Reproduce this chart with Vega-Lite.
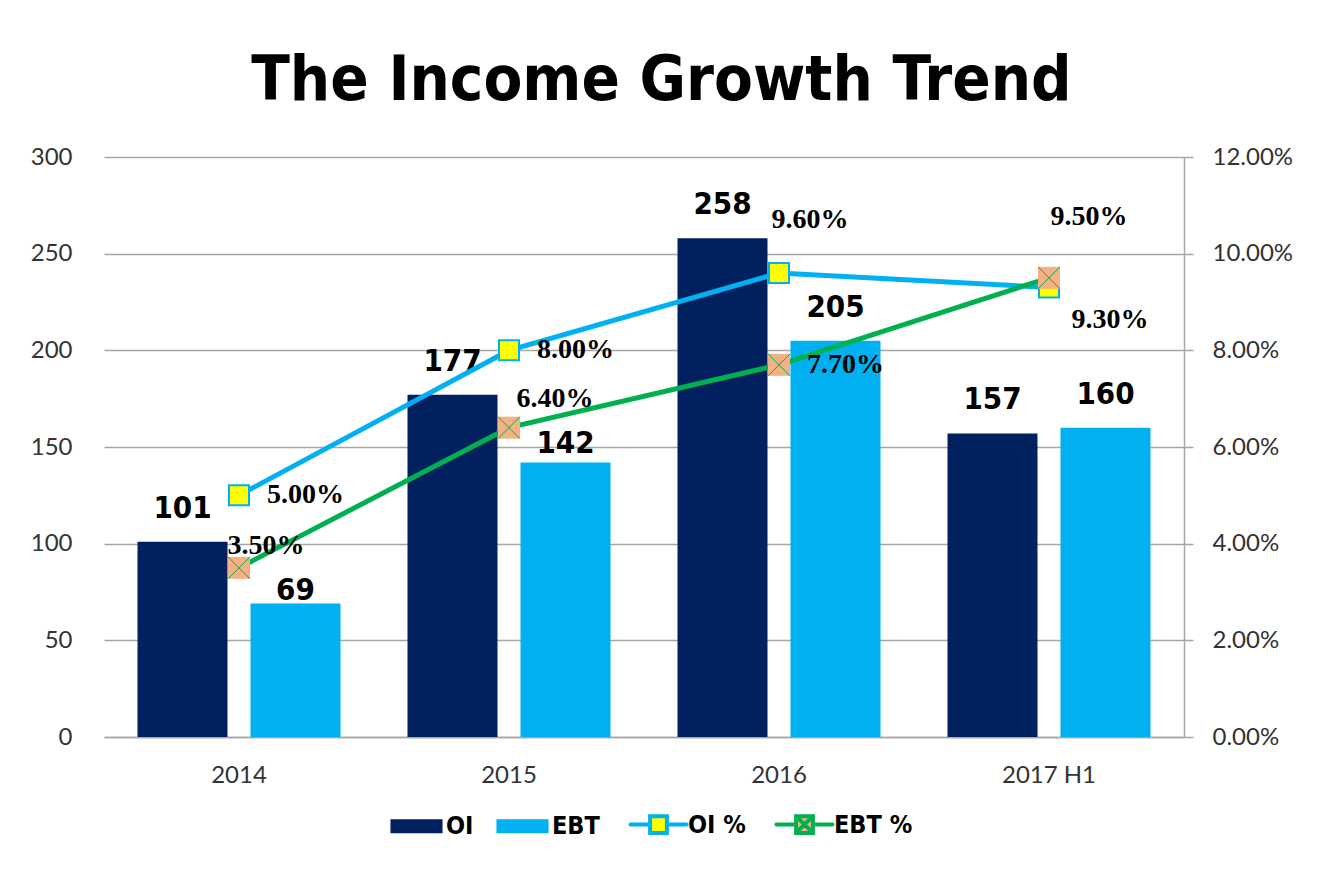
{
  "$schema": "https://vega.github.io/schema/vega-lite/v6.json",
  "width": 1080,
  "height": 580,
  "autosize": {"type": "none"},
  "padding": {"left": 104, "top": 157, "right": 143, "bottom": 149},
  "background": "white",
  "title": {
    "text": "The Income Growth Trend",
    "font": "DejaVu Sans Condensed, DejaVu Sans, sans-serif",
    "fontSize": 63,
    "fontWeight": "bold",
    "color": "black",
    "anchor": "middle",
    "frame": "bounds",
    "offset": 32
  },
  "data": {
    "values": [
      {"year": "2014", "series": "OI", "amount": 101},
      {"year": "2014", "series": "EBT", "amount": 69},
      {"year": "2015", "series": "OI", "amount": 177},
      {"year": "2015", "series": "EBT", "amount": 142},
      {"year": "2016", "series": "OI", "amount": 258},
      {"year": "2016", "series": "EBT", "amount": 205},
      {"year": "2017 H1", "series": "OI", "amount": 157},
      {"year": "2017 H1", "series": "EBT", "amount": 160},
      {"year": "2014", "series": "OI %", "pct": 0.05},
      {"year": "2015", "series": "OI %", "pct": 0.08},
      {"year": "2016", "series": "OI %", "pct": 0.096},
      {"year": "2017 H1", "series": "OI %", "pct": 0.093},
      {"year": "2014", "series": "EBT %", "pct": 0.035},
      {"year": "2015", "series": "EBT %", "pct": 0.064},
      {"year": "2016", "series": "EBT %", "pct": 0.077},
      {"year": "2017 H1", "series": "EBT %", "pct": 0.095}
    ]
  },
  "encoding": {
    "x": {
      "field": "year",
      "type": "nominal",
      "sort": ["2014", "2015", "2016", "2017 H1"],
      "scale": {"paddingInner": 0, "paddingOuter": 0},
      "axis": {
        "title": null,
        "labelAngle": 0,
        "ticks": false,
        "domain": true,
        "grid": false,
        "labelPadding": 26
      }
    }
  },
  "layer": [
    {
      "transform": [{"filter": "datum.series === 'OI' || datum.series === 'EBT'"}],
      "encoding": {
        "y": {
          "field": "amount",
          "type": "quantitative",
          "scale": {"domain": [0, 300], "nice": false},
          "axis": {
            "orient": "left",
            "title": null,
            "values": [0, 50, 100, 150, 200, 250, 300],
            "grid": true,
            "domain": false,
            "ticks": false,
            "tickSize": 0,
            "labelPadding": 32
          }
        },
        "xOffset": {
          "field": "series",
          "type": "nominal",
          "sort": ["OI", "EBT"],
          "scale": {"paddingInner": 0.2035, "paddingOuter": 0.2965}
        }
      },
      "layer": [
        {
          "mark": {"type": "bar"},
          "encoding": {
            "color": {
              "field": "series",
              "type": "nominal",
              "scale": {
                "domain": ["OI", "EBT", "OI %", "EBT %"],
                "range": ["#002060", "#00B0F0", "#FFFF00", "#F4B183"]
              },
              "legend": {
                "orient": "none",
                "legendX": 300,
                "legendY": 655,
                "direction": "horizontal",
                "title": null,
                "padding": 0,
                "labelFont": "DejaVu Sans Condensed, DejaVu Sans, sans-serif",
                "labelFontSize": 25,
                "labelFontWeight": "bold",
                "labelColor": "black",
                "symbolSize": 3136,
                "labelOffset": 17,
                "columnPadding": 22,
                "encode": {
                  "symbols": {
                    "update": {
                      "shape": {"signal": "datum.value === 'OI' || datum.value === 'EBT' ? 'M-0.93,-0.25H0.93V0.25H-0.93Z' : datum.value === 'OI %' ? 'M-1,0H-0.3M0.3,0H1M-0.3,-0.3H0.3V0.3H-0.3Z' : 'M-1,0H-0.3M0.3,0H1M-0.3,-0.3H0.3V0.3H-0.3ZM-0.3,-0.3L0.3,0.3M0.3,-0.3L-0.3,0.3'"},
                      "fill": {"signal": "datum.value === 'OI' ? '#002060' : datum.value === 'EBT' ? '#00B0F0' : datum.value === 'OI %' ? '#FFFF00' : '#F4B183'"},
                      "stroke": {"signal": "datum.value === 'OI' ? '#002060' : datum.value === 'EBT' ? '#00B0F0' : datum.value === 'OI %' ? '#00B0F0' : '#00B050'"},
                      "strokeWidth": {"signal": "datum.value === 'OI' || datum.value === 'EBT' ? 0 : 4"},
                      "strokeCap": {"value": "round"},
                      "fillOpacity": {"value": 1},
                      "strokeOpacity": {"value": 1},
                      "opacity": {"value": 1},
                      "size": {"value": 3136}
                    }
                  }
                }
              }
            }
          }
        },
        {
          "transform": [{"filter": "!(datum.year === '2014' && datum.series === 'EBT') && !(datum.year === '2015' && datum.series === 'EBT')"}],
          "mark": {"type": "text", "baseline": "alphabetic", "dy": -24, "font": "DejaVu Sans Condensed, DejaVu Sans, sans-serif", "fontSize": 31, "fontWeight": "bold", "color": "black"},
          "encoding": {"text": {"field": "amount", "type": "quantitative"}}
        },
        {
          "transform": [{"filter": "datum.year === '2014' && datum.series === 'EBT'"}],
          "mark": {"type": "text", "baseline": "alphabetic", "dy": -4, "font": "DejaVu Sans Condensed, DejaVu Sans, sans-serif", "fontSize": 31, "fontWeight": "bold", "color": "black"},
          "encoding": {"text": {"field": "amount", "type": "quantitative"}}
        },
        {
          "transform": [{"filter": "datum.year === '2015' && datum.series === 'EBT'"}],
          "mark": {"type": "text", "baseline": "alphabetic", "dy": -9, "font": "DejaVu Sans Condensed, DejaVu Sans, sans-serif", "fontSize": 31, "fontWeight": "bold", "color": "black"},
          "encoding": {"text": {"field": "amount", "type": "quantitative"}}
        }
      ]
    },
    {
      "transform": [{"filter": "datum.series === 'OI %' || datum.series === 'EBT %'"}],
      "encoding": {
        "y": {
          "field": "pct",
          "type": "quantitative",
          "scale": {"domain": [0, 0.12], "nice": false},
          "axis": {
            "orient": "right",
            "title": null,
            "format": ".2%",
            "values": [0, 0.02, 0.04, 0.06, 0.08, 0.1, 0.12],
            "grid": false,
            "domain": true,
            "ticks": true,
            "tickSize": 9,
            "labelPadding": 19
          }
        }
      },
      "layer": [
        {
          "transform": [{"filter": "datum.series === 'OI %'"}],
          "mark": {"type": "line", "strokeWidth": 5, "color": "#00B0F0"}
        },
        {
          "transform": [{"filter": "datum.series === 'OI %'"}],
          "mark": {"type": "point", "shape": "square", "filled": true, "fill": "#FFFF00", "stroke": "#00B0F0", "strokeWidth": 2, "size": 400, "opacity": 1}
        },
        {
          "transform": [{"filter": "datum.series === 'EBT %'"}],
          "mark": {"type": "line", "strokeWidth": 5, "color": "#00B050"}
        },
        {
          "transform": [{"filter": "datum.series === 'EBT %'"}],
          "mark": {"type": "point", "shape": "square", "filled": true, "fill": "#F4B183", "size": 484, "opacity": 1}
        },
        {
          "transform": [{"filter": "datum.series === 'EBT %'"}],
          "mark": {"type": "point", "shape": "M-1,-1L1,1M1,-1L-1,1", "filled": false, "stroke": "#00B050", "strokeWidth": 1, "size": 484, "opacity": 1}
        },
        {
          "transform": [{"filter": "(datum.series === 'OI %' && (datum.year === '2014' || datum.year === '2015')) || (datum.series === 'EBT %' && datum.year === '2016')"}],
          "mark": {"type": "text", "align": "left", "baseline": "middle", "dx": 28, "font": "Liberation Serif, DejaVu Serif, serif", "fontSize": 28, "fontWeight": "bold", "color": "black"},
          "encoding": {"text": {"field": "pct", "type": "quantitative", "format": ".2%"}}
        },
        {
          "transform": [{"filter": "datum.series === 'OI %' && datum.year === '2016'"}],
          "mark": {"type": "text", "align": "center", "baseline": "middle", "dx": 31, "dy": -53, "font": "Liberation Serif, DejaVu Serif, serif", "fontSize": 28, "fontWeight": "bold", "color": "black"},
          "encoding": {"text": {"field": "pct", "type": "quantitative", "format": ".2%"}}
        },
        {
          "transform": [{"filter": "datum.series === 'OI %' && datum.year === '2017 H1'"}],
          "mark": {"type": "text", "align": "center", "baseline": "middle", "dx": 61, "dy": 32, "font": "Liberation Serif, DejaVu Serif, serif", "fontSize": 28, "fontWeight": "bold", "color": "black"},
          "encoding": {"text": {"field": "pct", "type": "quantitative", "format": ".2%"}}
        },
        {
          "transform": [{"filter": "datum.series === 'EBT %' && datum.year === '2014'"}],
          "mark": {"type": "text", "align": "center", "baseline": "middle", "dx": 27, "dy": -22, "font": "Liberation Serif, DejaVu Serif, serif", "fontSize": 28, "fontWeight": "bold", "color": "black"},
          "encoding": {"text": {"field": "pct", "type": "quantitative", "format": ".2%"}}
        },
        {
          "transform": [{"filter": "datum.series === 'EBT %' && datum.year === '2015'"}],
          "mark": {"type": "text", "align": "center", "baseline": "middle", "dx": 46, "dy": -29, "font": "Liberation Serif, DejaVu Serif, serif", "fontSize": 28, "fontWeight": "bold", "color": "black"},
          "encoding": {"text": {"field": "pct", "type": "quantitative", "format": ".2%"}}
        },
        {
          "transform": [{"filter": "datum.series === 'EBT %' && datum.year === '2017 H1'"}],
          "mark": {"type": "text", "align": "center", "baseline": "middle", "dx": 40, "dy": -61, "font": "Liberation Serif, DejaVu Serif, serif", "fontSize": 28, "fontWeight": "bold", "color": "black"},
          "encoding": {"text": {"field": "pct", "type": "quantitative", "format": ".2%"}}
        }
      ]
    }
  ],
  "resolve": {"scale": {"y": "independent"}},
  "config": {
    "view": {"stroke": null},
    "axis": {
      "labelFont": "Lato, sans-serif",
      "labelFontSize": 24,
      "labelColor": "#333333",
      "gridColor": "#A6A6A6",
      "gridWidth": 1.5,
      "domainColor": "#A6A6A6",
      "domainWidth": 1.5,
      "tickColor": "#A6A6A6",
      "tickWidth": 1.5
    }
  }
}
